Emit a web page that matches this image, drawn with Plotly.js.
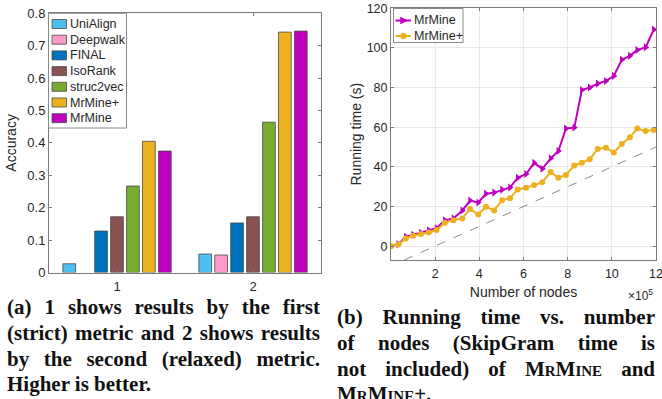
<!DOCTYPE html>
<html>
<head>
<meta charset="utf-8">
<script src="https://cdn.plot.ly/plotly-3.0.1.min.js"></script>
<style>
  html, body { margin: 0; padding: 0; background: #fff; }
  #wrap { position: relative; width: 662px; height: 399px; overflow: hidden; }
  #chart { position: absolute; left: 0; top: 0; width: 662px; height: 399px; }
  .cap { position: absolute; font-family: "Liberation Serif", "Times New Roman", serif;
         font-weight: bold; font-size: 21px; line-height: 25.8px; color: #111; }
  .cap div { white-space: nowrap; }
  .cap .j { text-align: justify; text-align-last: justify; white-space: normal; }
  .sc { font-variant: small-caps; }
</style>
</head>
<body>
<div id="wrap">
  <div id="chart"></div>
  <div class="cap" style="left:7px; top:295px; width:313px;">
    <div class="j">(a) 1 shows results by the first</div>
    <div class="j">(strict) metric and 2 shows results</div>
    <div class="j">by the second (relaxed) metric.</div>
    <div>Higher is better.</div>
  </div>
  <div class="cap" style="left:337px; top:305px; width:318px;">
    <div class="j">(b) Running time vs. number</div>
    <div class="j">of nodes (SkipGram time is</div>
    <div class="j">not included) of <span class="sc">MrMine</span> and</div>
    <div><span class="sc">MrMine</span>+.</div>
  </div>
</div>
<script>
// ---- (a) accuracy bar chart ----
const metricGroups = [1, 2];
const methods = ["UniAlign", "Deepwalk", "FINAL", "IsoRank", "struc2vec", "MrMine+", "MrMine"];
const accUniAlign  = [0.027, 0.057];
const accDeepwalk  = [null, 0.054];
const accFINAL     = [0.128, 0.153];
const accIsoRank   = [0.172, 0.172];
const accStruc2vec = [0.267, 0.464];
const accMrMinePlus = [0.405, 0.742];
const accMrMine    = [0.375, 0.745];
const methodColors = ["#4DBEEE", "#FF99CC", "#0072BD", "#8B5252", "#77AC30", "#EDB120", "#C000C0"];

// ---- (b) running time ----
const nodesE5 = [0, 0.33, 0.67, 1.0, 1.36, 1.71, 2.06, 2.44, 2.83, 3.23, 3.58, 3.95, 4.3, 4.67, 5.03, 5.39, 5.74,
                 6.12, 6.48, 6.85, 7.23, 7.58, 7.92, 8.3, 8.64, 9.0, 9.36, 9.73, 10.09, 10.45, 10.82, 11.15, 11.53, 11.9];
const timeMrMine = [0, 1, 4.7, 5.7, 6.7, 8, 9, 13, 14, 18, 23, 22, 26.4, 27, 28.5, 29.6, 34.5, 36.4, 42, 39,
                    44.3, 48, 59.3, 59.8, 78.8, 80, 82, 83.3, 85.9, 94, 96, 99, 100.3, 109.3];
const timeMrMinePlus = [0, 0.8, 3.9, 5.2, 6.1, 6.9, 8.1, 11.8, 13.1, 14, 18.7, 16, 19.9, 18, 23.2, 24.2, 28.6,
                        29.5, 30.8, 32.2, 37.4, 34.5, 35.9, 40.7, 42.1, 43.8, 49, 49.7, 47.3, 51.5, 54.9, 59.4, 58.1, 58.6];
const refLineX = [0.6, 12];
const refLineY = [-7, 50];
const lineNames = ["MrMine", "MrMine+"];
const lineColors = ["#C000C0", "#EDB120"];
const lineSymbols = ["triangle-right", "circle"];
const nodeTicks = [2, 4, 6, 8, 10, 12];
const timeTicks = [0, 20, 40, 60, 80, 100, 120];

const accSeries = [accUniAlign, accDeepwalk, accFINAL, accIsoRank, accStruc2vec, accMrMinePlus, accMrMine];
const timeSeries = [timeMrMine, timeMrMinePlus];

const W = 662, H = 399;
const FONT = "Liberation Sans, Arial, Helvetica, sans-serif";
const TXT = "#262626";
const AX = "#7a7a7a";
const px = v => v / W;          // pixel -> paper x
const py = v => 1 - v / H;      // pixel -> paper y

const traces = accSeries.map((vals, i) => ({
  type: "bar", x: metricGroups, y: vals, name: methods[i],
  xaxis: "x", yaxis: "y", showlegend: false,
  marker: { color: methodColors[i], line: { color: "#4a4a4a", width: 0.8 } }
}));

traces.push({
  type: "scatter", mode: "lines", x: refLineX, y: refLineY, xaxis: "x2", yaxis: "y2",
  showlegend: false, line: { color: "#8a8a8a", width: 1, dash: "dash" }, hoverinfo: "skip"
});
timeSeries.forEach((vals, i) => traces.push({
  type: "scatter", mode: "lines+markers", x: nodesE5, y: vals, name: lineNames[i],
  xaxis: "x2", yaxis: "y2", showlegend: false,
  line: { color: lineColors[i], width: 2 },
  marker: { symbol: lineSymbols[i], size: i === 0 ? 7 : 6, color: lineColors[i] }
}));

// ---- compact MATLAB-style legends (boxes, swatches, labels) ----
const shapes = [];
const annotations = [];
// legend (a)
shapes.push({ type: "rect", xref: "paper", yref: "paper", x0: px(48.5), x1: px(126.5), y0: py(128), y1: py(13.3),
  line: { color: "#8a8a8a", width: 1 }, fillcolor: "#fff", layer: "above" });
methods.forEach((m, i) => {
  const cy = 24 + i * 15.7;
  shapes.push({ type: "rect", xref: "paper", yref: "paper", x0: px(52), x1: px(66.5), y0: py(cy + 4.5), y1: py(cy - 4.5),
    line: { color: "#4a4a4a", width: 0.8 }, fillcolor: methodColors[i], layer: "above" });
  annotations.push({ xref: "paper", yref: "paper", x: px(67.5), y: py(cy), xanchor: "left", yanchor: "middle",
    text: m, showarrow: false, font: { size: 12.5, color: TXT, family: FONT } });
});
// legend (b)
shapes.push({ type: "rect", xref: "paper", yref: "paper", x0: px(393.5), x1: px(463), y0: py(42.5), y1: py(8.5),
  line: { color: "#8a8a8a", width: 1 }, fillcolor: "#fff", layer: "above" });
lineNames.forEach((n, i) => {
  const cy = 20.5 + i * 15.5;
  shapes.push({ type: "line", xref: "paper", yref: "paper", x0: px(395.5), x1: px(411), y0: py(cy), y1: py(cy),
    line: { color: lineColors[i], width: 2 }, layer: "above" });
  if (lineSymbols[i] === "triangle-right") {
    shapes.push({ type: "path", xref: "paper", yref: "paper", layer: "above",
      path: `M ${px(400.5)} ${py(cy - 3.5)} L ${px(400.5)} ${py(cy + 3.5)} L ${px(407.5)} ${py(cy)} Z`,
      fillcolor: lineColors[i], line: { color: lineColors[i], width: 0.5 } });
  } else {
    shapes.push({ type: "circle", xref: "paper", yref: "paper", layer: "above",
      x0: px(400.5), x1: px(406.5), y0: py(cy + 3), y1: py(cy - 3),
      fillcolor: lineColors[i], line: { color: lineColors[i], width: 0.5 } });
  }
  annotations.push({ xref: "paper", yref: "paper", x: px(412.5), y: py(cy), xanchor: "left", yanchor: "middle",
    text: n, showarrow: false, font: { size: 12.5, color: TXT, family: FONT } });
});
annotations.push({
  xref: "paper", yref: "paper", x: px(655), y: py(295), xanchor: "right", yanchor: "middle",
  text: "×10<sup>5</sup>", showarrow: false, font: { size: 12, color: TXT, family: FONT }
});

const layout = {
  width: W, height: H,
  margin: { l: 0, r: 0, t: 0, b: 0 },
  paper_bgcolor: "#fff", plot_bgcolor: "#fff",
  font: { family: FONT, color: TXT, size: 13 },
  showlegend: false,
  barmode: "group", bargap: 0.18, bargroupgap: 0.2,
  xaxis: {
    domain: [px(49), px(321)], range: [0.5, 2.5], tickvals: metricGroups, ticktext: ["1", "2"],
    showline: true, linecolor: AX, linewidth: 1, mirror: "ticks", ticks: "inside", ticklen: 3, tickcolor: AX,
    showgrid: false, zeroline: false, tickfont: { size: 13, color: TXT }, anchor: "y", ticklabelstandoff: 2
  },
  yaxis: {
    domain: [py(272.5), py(13.3)], range: [0, 0.8], dtick: 0.1, tick0: 0,
    showline: true, linecolor: AX, linewidth: 1, mirror: "ticks", ticks: "inside", ticklen: 3, tickcolor: AX,
    showgrid: false, zeroline: false, tickfont: { size: 13, color: TXT }, anchor: "x",
    title: { text: "Accuracy", font: { size: 14, color: TXT }, standoff: 7 }
  },
  xaxis2: {
    domain: [px(391), px(656)], range: [0, 12], tickvals: nodeTicks,
    showline: true, linecolor: AX, linewidth: 1, mirror: "ticks", ticks: "inside", ticklen: 3, tickcolor: AX,
    showgrid: true, gridcolor: "#e8e8e8", gridwidth: 1, zeroline: false,
    tickfont: { size: 12.5, color: TXT }, anchor: "y2", ticklabelstandoff: 2, ticklabeloverflow: "allow",
    title: { text: "Number of nodes", font: { size: 14, color: TXT }, standoff: 7 }
  },
  yaxis2: {
    domain: [py(260), py(8.3)], range: [-7, 120], tickvals: timeTicks,
    showline: true, linecolor: AX, linewidth: 1, mirror: "ticks", ticks: "inside", ticklen: 3, tickcolor: AX,
    showgrid: true, gridcolor: "#e8e8e8", gridwidth: 1, zeroline: false,
    tickfont: { size: 12.5, color: TXT }, anchor: "x2",
    title: { text: "Running time (s)", font: { size: 14, color: TXT }, standoff: 1 }
  },
  shapes: shapes,
  annotations: annotations
};

Plotly.newPlot("chart", traces, layout, { displayModeBar: false, staticPlot: true });
</script>
</body>
</html>
